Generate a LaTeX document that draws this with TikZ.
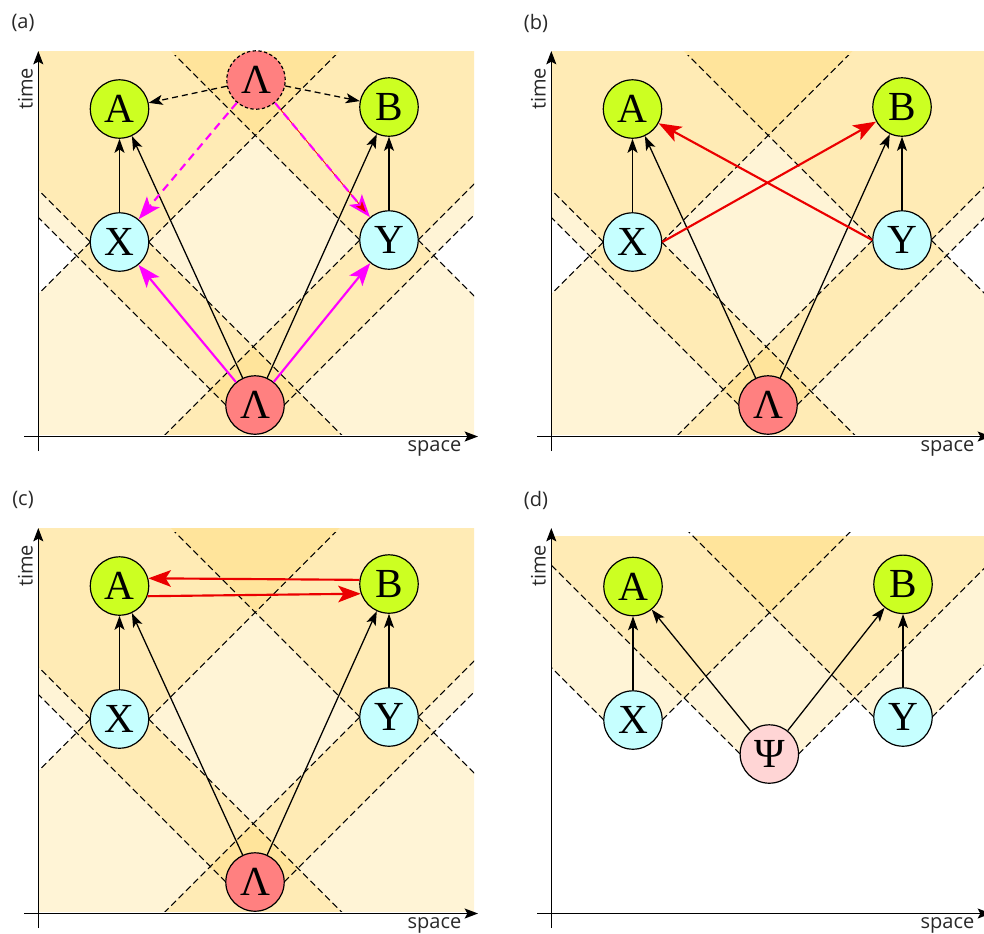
\documentclass[tikz,border=0pt]{standalone}
\usepackage{fontspec}
\setmainfont{Liberation Serif}
\setsansfont{Open Sans}
\usetikzlibrary{arrows.meta,calc}
\definecolor{conecol}{RGB}{255,200,50}
\definecolor{limeA}{RGB}{204,255,34}
\definecolor{cyanX}{RGB}{198,255,255}
\definecolor{salmonL}{RGB}{255,128,128}
\definecolor{pinkP}{RGB}{255,213,213}
\definecolor{redarr}{RGB}{235,0,0}
\definecolor{magarr}{RGB}{255,0,255}
\definecolor{labelgray}{RGB}{40,40,40}
\tikzset{
  ev/.style={circle, draw=black, line width=0.9pt, minimum size=43.8pt, inner sep=0pt, font=\fontsize{31}{31}\selectfont},
  evA/.style={ev, fill=limeA},
  evX/.style={ev, fill=cyanX},
  evL/.style={ev, fill=salmonL},
  evP/.style={ev, fill=pinkP},
  conefill/.style={fill=conecol, fill opacity=0.2},
  coneline/.style={draw=black, line width=0.8pt, dash pattern=on 5pt off 2.8pt},
  axis/.style={line width=1.1pt, -{Stealth[length=10pt,width=7.5pt,inset=2pt]}},
  causal/.style={line width=0.95pt, -{Stealth[length=10.5pt,width=7.5pt,inset=2.5pt]}},
  dcausal/.style={causal, dash pattern=on 4.5pt off 3pt},
  redarrow/.style={draw=redarr, line width=1.6pt, -{Stealth[length=17pt,width=12.5pt,inset=4pt]}},
  magarrow/.style={draw=magarr, line width=1.6pt, -{Stealth[length=17pt,width=12.5pt,inset=4pt]}},
  axlabel/.style={font=\sffamily\fontsize{15}{15}\selectfont, text=labelgray},
}
\newcommand{\fillfut}[2]{\fill[conefill] ({#1-29.2},#2) -- ++(-700,-700) -- ({#1+729.2},{#2-700}) -- ({#1+29.2},#2) -- cycle;}
\newcommand{\fillpast}[2]{\fill[conefill] ({#1-29.2},#2) -- ++(-700,700) -- ({#1+729.2},{#2+700}) -- ({#1+29.2},#2) -- cycle;}
\newcommand{\linesfut}[2]{\draw[coneline] ({#1-29.2},#2) -- ++(-700,-700); \draw[coneline] ({#1+29.2},#2) -- ++(700,-700);}
\newcommand{\linespast}[2]{\draw[coneline] ({#1-29.2},#2) -- ++(-700,700); \draw[coneline] ({#1+29.2},#2) -- ++(700,700);}
\newcommand{\panelframe}[2]{%
  \draw[axis] (38.3,451) -- (38.3,51);
  \draw[axis] (24,436.5) -- (478,436.5);
  \node[axlabel, rotate=90, anchor=base] (#1time) at (32.5,89) {time};
  \node[axlabel, anchor=base] (#1space) at (434.5,451) {space};
  \node[axlabel] (#1label) at (23,23) {(#2)};
}
\newcommand{\xyzcones}{%
  \begin{scope}
    \clip (38.3,51.5) rectangle (474,434);
    \fillfut{119.5}{242} \fillfut{389}{240} \fillfut{255}{405}
    \fillpast{119.5}{242} \fillpast{389}{240}
  \end{scope}
  \begin{scope}
    \clip (38.3,55) rectangle (474,434);
    \linesfut{119.5}{242} \linespast{119.5}{242}
    \linesfut{389}{240} \linespast{389}{240}
    \linesfut{255}{405}
  \end{scope}
}
\begin{document}
\begin{tikzpicture}[x=0.75pt,y=-0.75pt]
\useasboundingbox (0,0) rectangle (984,933);

% ---------------- (a)
\begin{scope}
  \xyzcones
  \panelframe{a}{a}
  \node[evA] (aA) at (119.5,109) {A};
  \node[evA] (aB) at (389,107) {B};
  \node[evX] (aX) at (119.5,242) {X};
  \node[evX] (aY) at (389,240) {Y};
  \node[evL] (aL) at (255,405) {Λ};
  \node[evL, dash pattern=on 2.5pt off 1.8pt] (aLt) at (256,80) {Λ};
  \draw[causal] (aX) -- (aA);
  \draw[causal] (aL) -- (aA);
  \draw[causal] (aL) -- (aB);
  \draw[causal] (aY) -- (aB);
  \draw[magarrow] (aL) -- (aX);
  \draw[magarrow] (aL) -- (aY);
  \draw[dcausal] (aLt) -- (aA);
  \draw[dcausal] (aLt) -- (aB);
  \draw[magarrow, dash pattern=on 6pt off 4pt] (aLt) -- (aX);
  \draw[draw=redarr, line width=0.6pt, shorten >=8pt] (aLt) -- (aY);
  \draw[magarrow, dash pattern=on 6pt off 4pt, -{Stealth[length=17pt,width=12.5pt,inset=4pt,fill=redarr]}] (aLt) -- (aY);
\end{scope}

% ---------------- (b)
\begin{scope}[shift={(513,0)}]
  \xyzcones
  \panelframe{b}{b}
  \node[evA] (bA) at (119.5,109) {A};
  \node[evA] (bB) at (389,107) {B};
  \node[evX] (bX) at (119.5,242) {X};
  \node[evX] (bY) at (389,240) {Y};
  \node[evL] (bL) at (255,405) {Λ};
  \draw[causal] (bX) -- (bA);
  \draw[causal] (bL) -- (bA);
  \draw[causal] (bL) -- (bB);
  \draw[causal] (bY) -- (bB);
  \draw[redarrow] (bX.east) -- (bB);
  \draw[redarrow] (bY.west) -- (bA);
\end{scope}

% ---------------- (c)
\begin{scope}[shift={(0,477)}]
  \xyzcones
  \panelframe{c}{c}
  \node[evA] (cA) at (119.5,109) {A};
  \node[evA] (cB) at (389,107) {B};
  \node[evX] (cX) at (119.5,242) {X};
  \node[evX] (cY) at (389,240) {Y};
  \node[evL] (cL) at (255,405) {Λ};
  \draw[causal] (cX) -- (cA);
  \draw[causal] (cL) -- (cA);
  \draw[causal] (cL) -- (cB);
  \draw[causal] (cY) -- (cB);
  \draw[redarrow] (cB.172) -- (cA.15);
  \draw[redarrow] (cA.-20) -- (cB.199);
\end{scope}

% ---------------- (d)
\begin{scope}[shift={(513,477)}]
  \begin{scope}
    \clip (38.3,59) rectangle (474,434);
    \fillfut{120}{243} \fillfut{390}{240} \fillfut{256.3}{277}
  \end{scope}
  \begin{scope}
    \clip (38.3,55) rectangle (474,434);
    \linesfut{120}{243} \linesfut{390}{240} \linesfut{256.3}{277}
  \end{scope}
  \panelframe{d}{d}
  \node[evA] (dA) at (120,109.5) {A};
  \node[evA] (dB) at (390,107.3) {B};
  \node[evX] (dX) at (120,243) {X};
  \node[evX] (dY) at (390,240) {Y};
  \node[evP] (dP) at (256.3,277) {Ψ};
  \draw[causal] (dX) -- (dA);
  \draw[causal] (dP) -- (dA);
  \draw[causal] (dP) -- (dB);
  \draw[causal] (dY) -- (dB);
\end{scope}
\end{tikzpicture}
\end{document}
